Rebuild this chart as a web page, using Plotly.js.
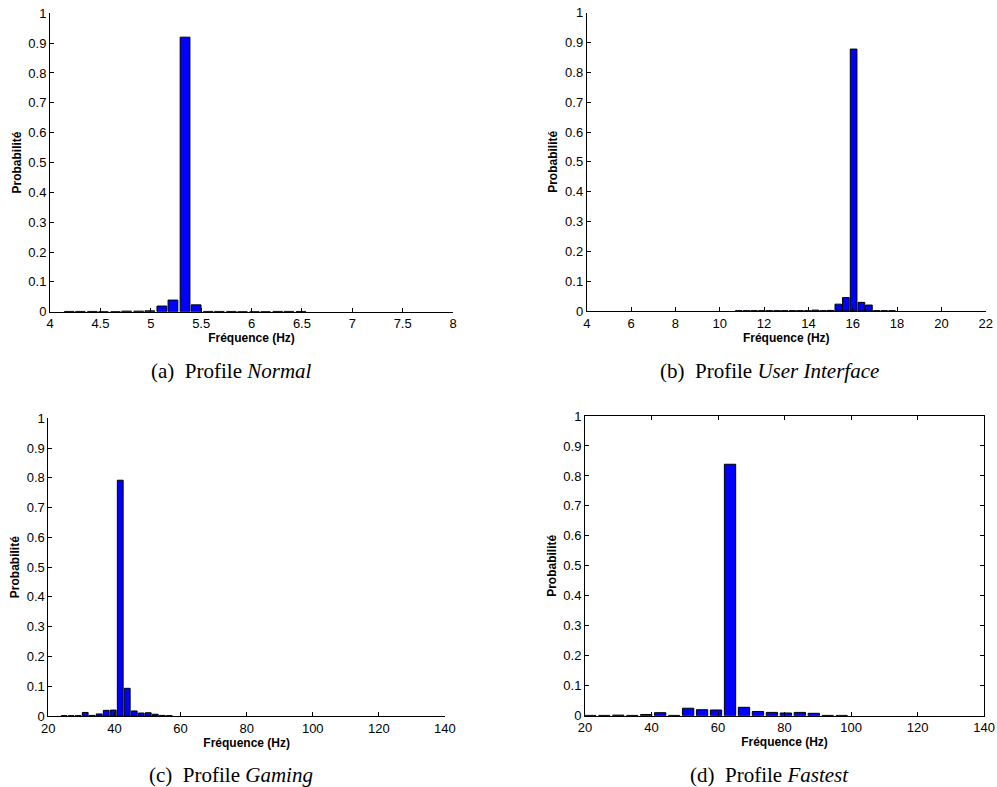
<!DOCTYPE html>
<html>
<head>
<meta charset="utf-8">
<script src="https://cdn.plot.ly/plotly-3.0.1.min.js"></script>
<style>html,body{margin:0;padding:0;background:#fff;}#chart{width:997px;height:787px;}</style>
</head>
<body>
<div id="chart"></div>
<script>
// Panel (a) Profile Normal
const freqA = [4.19,4.30,4.42,4.53,4.65,4.76,4.88,4.99,5.11,5.22,5.34,5.45,5.57,5.68,5.80,5.91,6.03,6.14,6.26,6.37,6.49];
const probA = [0.001,0.001,0.001,0,0,0.002,0.002,0.003,0.019,0.039,0.92,0.023,0.001,0.001,0.001,0,0,0,0.001,0.001,0.001];
// Panel (b) Profile User Interface
const freqB = [10.86,11.21,11.55,11.90,12.24,12.59,12.93,13.28,13.62,13.97,14.31,14.66,15.00,15.35,15.69,16.04,16.39,16.73,17.08,17.42,17.77];
const probB = [0.001,0.001,0.001,0.001,0.001,0.001,0.001,0.001,0.001,0.001,0.003,0.001,0.002,0.023,0.045,0.878,0.029,0.020,0.001,0.001,0.001];
// Panel (c) Profile Gaming
const freqC = [24.79,26.91,29.03,31.15,33.27,35.39,37.51,39.63,41.75,43.87,45.99,48.11,50.23,52.35,54.47,56.59];
const probC = [0.001,0.001,0.001,0.012,0.002,0.007,0.019,0.020,0.792,0.093,0.017,0.010,0.011,0.006,0.002,0.001];
// Panel (d) Profile Fastest
const freqD = [21.6,25.8,30.0,34.2,38.4,42.6,46.8,51.0,55.2,59.4,63.6,67.8,72.0,76.2,80.4,84.6,88.8,93.0,97.2];
const probD = [0.001,0.001,0.002,0.001,0.004,0.010,0.001,0.025,0.020,0.019,0.839,0.028,0.014,0.011,0.009,0.011,0.008,0.001,0.001];

const yTicks = [0,0.1,0.2,0.3,0.4,0.5,0.6,0.7,0.8,0.9,1];
const yTickText = ["0","0.1","0.2","0.3","0.4","0.5","0.6","0.7","0.8","0.9","1"];
const xTicksA = [4,4.5,5,5.5,6,6.5,7,7.5,8];
const xTicksB = [4,6,8,10,12,14,16,18,20,22];
const xTicksCD = [20,40,60,80,100,120,140];

const captions = [
  "(a)&nbsp;&nbsp;Profile <i>Normal</i>",
  "(b)&nbsp;&nbsp;Profile <i>User Interface</i>",
  "(c)&nbsp;&nbsp;Profile <i>Gaming</i>",
  "(d)&nbsp;&nbsp;Profile <i>Fastest</i>"
];

function barTrace(x, y, w, xa, ya) {
  return {type:'bar', x:x, y:y, width:w, xaxis:xa, yaxis:ya,
    marker:{color:'#0000FF', line:{color:'#000000', width:1}},
    hoverinfo:'x+y', showlegend:false};
}

const data = [
  barTrace(freqA, probA, 0.097, 'x', 'y'),
  barTrace(freqB, probB, 0.30, 'x2', 'y2'),
  barTrace(freqC, probC, 1.75, 'x3', 'y3'),
  barTrace(freqD, probD, 3.4, 'x4', 'y4')
];

const tickFont = {family:'Liberation Sans, Arial, sans-serif', size:13, color:'#000'};
const titleFont = {family:'Liberation Sans, Arial, sans-serif', size:12, color:'#000', weight:'bold'};

function xAxis(dom, range, ticks, anchor, mirror) {
  return {domain:dom, range:range, tickmode:'array', tickvals:ticks, ticktext:ticks.map(String),
    ticks:'inside', ticklen:4, tickcolor:'#000', showline:true, linecolor:'#000', linewidth:1,
    mirror:mirror, showgrid:false, zeroline:false, anchor:anchor, tickfont:tickFont,
    title:{text:'<b>Fréquence (Hz)</b>', font:titleFont, standoff:0}};
}
function yAxis(dom, anchor, mirror) {
  return {domain:dom, range:[0,1], tickmode:'array', tickvals:yTicks, ticktext:yTickText,
    ticks:'inside', ticklen:4, tickcolor:'#000', showline:true, linecolor:'#000', linewidth:1,
    mirror:mirror, showgrid:false, zeroline:false, anchor:anchor, tickfont:tickFont,
    title:{text:'<b>Probabilité</b>', font:titleFont, standoff:4}};
}

const capFont = {family:'Liberation Serif, Times New Roman, serif', size:21, color:'#000'};

function caption(i, cx, cy) {
  return {text:captions[i], x:cx/997, y:1-cy/787, xref:'paper', yref:'paper',
    xanchor:'center', yanchor:'middle', showarrow:false, font:capFont};
}

const layout = {
  width:997, height:787,
  margin:{l:0, r:0, t:0, b:0},
  paper_bgcolor:'#fff', plot_bgcolor:'#fff',
  bargap:0,
  xaxis: xAxis([0.0502,0.4544],[4,8],xTicksA,'y',false),
  yaxis: yAxis([0.6039,0.9831],'x',false),
  xaxis2: xAxis([0.5885,0.9887],[4,22],xTicksB,'y2',false),
  yaxis2: yAxis([0.6048,0.9839],'x2',false),
  xaxis3: xAxis([0.0485,0.4463],[20,140],xTicksCD,'y3',false),
  yaxis3: yAxis([0.0902,0.4685],'x3',false),
  xaxis4: xAxis([0.5868,0.9870],[20,140],xTicksCD,'y4','ticks'),
  yaxis4: yAxis([0.0906,0.4714],'x4','ticks'),
  annotations: [
    caption(0, 231, 371),
    caption(1, 769, 371),
    caption(2, 231, 775),
    caption(3, 769, 775)
  ]
};

Plotly.newPlot('chart', data, layout, {displayModeBar:false, staticPlot:true});
</script>
</body>
</html>
